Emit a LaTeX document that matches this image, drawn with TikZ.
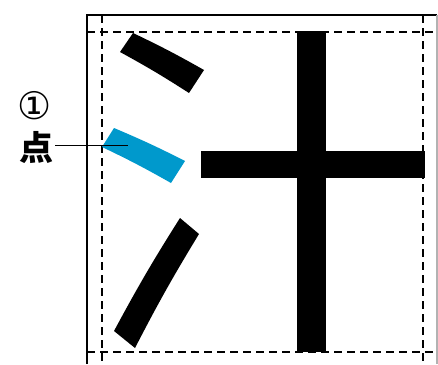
\documentclass[tikz,border=0pt]{standalone}
\usepackage{fontspec}
\newfontfamily\cjk{Noto Sans CJK JP}
\newfontfamily\symfont{DejaVu Sans}
\usepackage{tikz}
\usetikzlibrary{positioning}
\definecolor{strokeblue}{HTML}{0099CC}
\tikzset{
  guide/.style={line width=1.3pt,dash pattern=on 8pt off 5pt},
  frameline/.style={line width=1.3pt},
  ink/.style={fill=black},
  labeltext/.style={inner sep=1pt},
}

\begin{document}
\begin{tikzpicture}[x=1pt,y=-1pt]
  \useasboundingbox (0,0) rectangle (438,364);
  % outer frame
  \draw[frameline] (87,364) -- (87,15) -- (437,15);
  \draw[frameline,gray!60] (437,15) -- (437,364);
  % guide lines
  \foreach \y in {32,352} \draw[guide] (87,\y) -- (437,\y);
  \foreach \x in {102,423} \draw[guide] (\x,15) -- (\x,364);
  % strokes
  \fill[ink] (133,33) to[bend left=2] (204,70) -- (189,93) to[bend right=2] (120,52) -- cycle;
  \fill[strokeblue] (114,128) to[bend left=2] (185,161) -- (171,183) to[bend right=2] (102,147) -- cycle;
  \fill[ink] (180,218) to[bend right=2] (114,331) -- (135,348) to[bend left=2] (199,234) -- cycle;
  \fill[ink] (201,151) rectangle (425,178);
  \fill[ink] (297,31) rectangle (326,352);
  % label
  \node[labeltext,font={\fontsize{34}{36}\selectfont}] (ten) at (36,147) {\cjk\bfseries 点};
  \node[labeltext,font={\fontsize{38}{40}\selectfont}] (num) at (35,106) {\symfont ①};
  \coordinate (tip) at (128,145);
  \draw[line width=0.8pt] (55,145) -- (tip);
\end{tikzpicture}
\end{document}
